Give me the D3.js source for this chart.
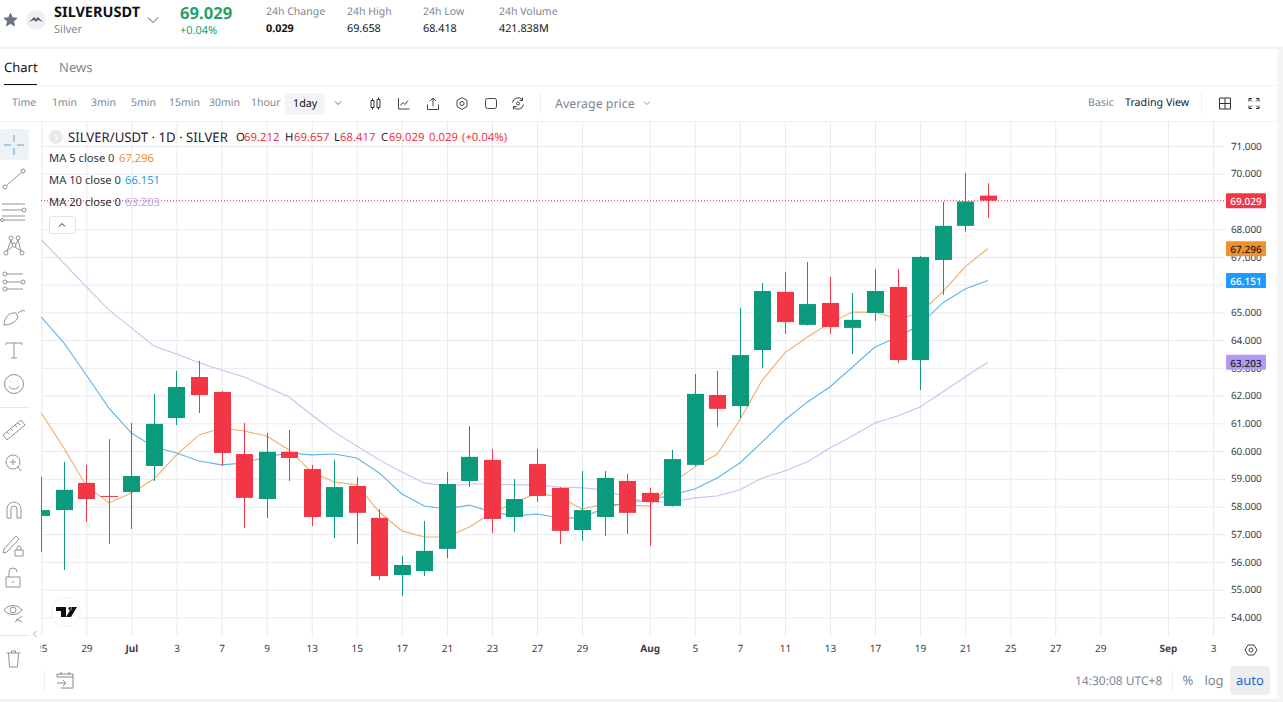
<!DOCTYPE html>
<html>
<head>
<meta charset="utf-8">
<script src="https://cdn.jsdelivr.net/npm/d3@7"></script>
<style>
  html, body { margin: 0; padding: 0; background: #fff; overflow: hidden; }
  svg { display: block; font-family: "Noto Sans", sans-serif; }
  svg text { text-rendering: geometricPrecision; }
</style>
</head>
<body>
<div id="chart"></div>
<script>
// daily candles, index 0 is 25 Jun, last one is 23 Aug
const open = [57.66,57.87,58.85,58.38,58.52,59.46,61.19,62.67,62.13,59.89,58.27,59.97,59.35,57.62,58.74,57.59,55.53,55.67,56.47,58.92,59.68,57.62,59.53,58.67,57.15,57.62,58.92,58.49,58.02,59.50,62.02,61.62,63.64,65.74,64.55,65.34,64.44,64.98,65.92,63.28,66.89,68.12,69.212];
const close = [57.87,58.60,58.27,58.36,59.10,60.98,62.31,62.02,59.93,58.31,59.97,59.75,57.62,58.70,57.77,55.49,55.89,56.40,58.81,59.79,57.55,58.27,58.38,57.12,57.87,59.03,57.77,58.16,59.71,62.06,61.52,63.46,65.77,64.65,65.30,64.47,64.73,65.77,63.28,67.00,68.12,69.00,69.029];
const high = [59.06,59.61,59.50,60.43,61.01,62.06,62.89,63.25,62.17,61.01,60.65,60.76,59.50,59.68,59.06,57.91,56.22,57.48,59.24,60.90,60.07,58.99,60.07,58.70,59.28,59.28,59.17,58.67,60.04,62.78,62.89,65.16,66.06,66.46,66.82,66.28,65.70,66.56,66.56,67.03,68.98,70.03,69.657];
const low = [56.36,55.71,57.44,56.65,57.19,58.92,60.94,61.37,59.46,57.23,57.59,58.92,57.30,56.86,56.65,55.35,54.77,55.49,56.14,58.70,57.04,57.08,58.16,56.65,56.76,56.94,57.01,56.58,58.00,59.46,60.87,61.19,62.99,64.22,64.53,64.22,63.50,64.69,63.18,62.20,65.63,67.90,68.417];
const ma5 = [61.37,60.11,58.74,58.13,58.49,58.99,59.86,60.58,60.83,60.72,60.54,60.04,59.24,58.88,58.78,57.80,57.12,56.90,56.90,57.26,57.77,58.13,58.49,58.34,57.91,58.09,58.05,58.02,58.85,59.42,59.89,61.12,62.56,63.54,64.11,64.62,65.01,65.01,64.76,64.98,65.74,66.64,67.296];
const ma10 = [64.83,63.90,62.74,61.55,60.65,60.15,59.93,59.64,59.50,59.57,59.79,59.93,59.86,59.89,59.75,59.21,58.45,58.02,57.91,58.05,57.80,57.66,57.73,57.59,57.59,57.95,58.16,58.23,58.42,58.63,59.03,59.57,60.33,61.12,61.77,62.31,63.03,63.75,64.11,64.55,65.34,65.84,66.151];
const ma20 = [67.61,66.78,65.92,65.09,64.44,63.79,63.50,63.18,62.92,62.67,62.31,61.95,61.30,60.69,60.18,59.68,59.24,58.85,58.74,58.81,58.81,58.78,58.78,58.70,58.67,58.60,58.31,58.16,58.16,58.31,58.38,58.60,59.03,59.28,59.61,60.11,60.54,61.01,61.26,61.59,62.13,62.67,63.203];

const priceTicks = [71,70,69,68,67,66,65,64,63,62,61,60,59,58,57,56,55,54];
const dateTickIndex = [0,2,4,6,8,10,12,14,16,18,20,22,24,27,29,31,33,35,37,39,41,43,45,47,50,52];
const dateTickLabels = ["25","29","Jul","3","7","9","13","15","17","21","23","27","29","Aug","5","7","11","13","17","19","21","25","27","29","Sep","3"];
const monthLabels = ["Jul","Aug","Sep"];

const lastPrice = 69.029;
const maValues = [67.296, 66.151, 63.203];
const maNames = ["MA 5 close 0", "MA 10 close 0", "MA 20 close 0"];
const maLineColors = ["#f4ab66", "#5bb5ea", "#cbbff2"];
const maTextColors = ["#f0923b", "#2a9df4", "#b7a6f2"];
const maBadgeColors = ["#f0912e", "#1e9bfd", "#b09cf7"];

const UP = "#0a9a7d", DOWN = "#f23645", GRID = "#e9eaee";
const ICON = "#8d929b", GREY = "#7f8792", DARK = "#1f2329";

const svg = d3.select("#chart").append("svg").attr("width", 1283).attr("height", 702);

const x = d3.scaleLinear().domain([0, 52]).range([41.3, 1213]);
const y = d3.scaleLinear().domain([54, 71]).range([617.4, 146]);

function label(t, px, py, size, color, opts) {
    opts = opts || {};
    return svg.append("text")
        .attr("x", px).attr("y", py)
        .attr("dominant-baseline", "central")
        .attr("text-anchor", opts.anchor || "start")
        .attr("font-size", size)
        .attr("font-weight", opts.weight || 400)
        .attr("fill", color)
        .text(t);
}
function box(px, py, w, h, fill, r) {
    return svg.append("rect").attr("x", px).attr("y", py).attr("width", w).attr("height", h)
        .attr("rx", r || 0).attr("fill", fill);
}
function hr(x1, y1, x2, y2, color) {
    return svg.append("line").attr("x1", x1).attr("y1", y1).attr("x2", x2).attr("y2", y2)
        .attr("stroke", color).attr("stroke-width", 1);
}
function icon(cx, cy, d, color) {
    return svg.append("path").attr("transform", `translate(${cx},${cy})`)
        .attr("d", d).attr("fill", "none").attr("stroke", color || ICON).attr("stroke-width", 1);
}
function circlePath(cx, cy, r) {
    return `M${cx - r},${cy}a${r},${r} 0 1,0 ${2 * r},0a${r},${r} 0 1,0 ${-2 * r},0`;
}

// ---- grid and axes
const clip = svg.append("defs");
clip.append("clipPath").attr("id", "plot").append("rect")
    .attr("x", 41).attr("y", 122).attr("width", 1184).attr("height", 516);
clip.append("clipPath").attr("id", "dates").append("rect")
    .attr("x", 40.5).attr("y", 122).attr("width", 1200).attr("height", 540);

const yAxis = d3.axisRight(y).tickValues(priceTicks).tickSize(1184).tickPadding(6)
    .tickFormat(d3.format(".3f"));
const gy = svg.append("g").attr("transform", "translate(41,0)").call(yAxis);
gy.select(".domain").remove();
gy.selectAll("line").attr("stroke", GRID);
gy.selectAll("text").attr("font-size", 10).attr("fill", "#3c4148").attr("letter-spacing", -0.1)
    .attr("font-family", '"Noto Sans", sans-serif');

const xAxis = d3.axisBottom(x).tickValues(dateTickIndex).tickSize(515).tickPadding(8)
    .tickFormat((d, i) => dateTickLabels[i]);
const gx = svg.append("g").attr("clip-path", "url(#dates)")
    .append("g").attr("transform", "translate(0,122)").call(xAxis);
gx.select(".domain").remove();
gx.selectAll("line").attr("stroke", GRID);
gx.selectAll("text").attr("font-size", 10).attr("fill", "#3c4148")
    .attr("font-family", '"Noto Sans", sans-serif')
    .attr("font-weight", (d, i) => monthLabels.includes(dateTickLabels[i]) ? 700 : 400);

// ---- moving averages sit under the candles
const plot = svg.append("g").attr("clip-path", "url(#plot)");
const maLine = d3.line().x((d, i) => x(i)).y(d => y(d));
[ma5, ma10, ma20].forEach((s, k) => {
    plot.append("path").datum(s).attr("d", maLine)
        .attr("fill", "none").attr("stroke", maLineColors[k]).attr("stroke-width", 1.1);
});

// ---- candles
const candles = open.map((o, i) => ({ i, o, c: close[i], h: high[i], l: low[i] }));
const bodyW = 17;
const col = d => d.c >= d.o ? UP : DOWN;
plot.selectAll(".wick").data(candles).enter().append("line")
    .attr("class", "wick")
    .attr("x1", d => Math.round(x(d.i)) + 0.5).attr("x2", d => Math.round(x(d.i)) + 0.5)
    .attr("y1", d => y(d.h)).attr("y2", d => y(d.l))
    .attr("stroke", col).attr("stroke-width", 1);
plot.selectAll(".body").data(candles).enter().append("rect")
    .attr("class", "body")
    .attr("x", d => Math.round(x(d.i)) + 0.5 - bodyW / 2).attr("width", bodyW)
    .attr("y", d => y(Math.max(d.o, d.c)))
    .attr("height", d => Math.max(1, Math.abs(y(d.o) - y(d.c))))
    .attr("fill", col);

// last price line
svg.append("line").attr("x1", 41).attr("x2", 1225).attr("y1", y(lastPrice)).attr("y2", y(lastPrice))
    .attr("stroke", DOWN).attr("stroke-width", 1).attr("stroke-dasharray", "1 2");

// price badges on the axis
[lastPrice].concat(maValues).forEach((v, k) => {
    const fill = k === 0 ? DOWN : maBadgeColors[k - 1];
    const txt = k === 0 || k === 2 ? "#fff" : "#222";
    box(1226, y(v) - 7.5, 40, 15, fill, 1);
    label(d3.format(".3f")(v), 1246, y(v) + 0.5, 10, txt, { anchor: "middle", weight: 500 });
});

// ---- legend
svg.append("circle").attr("cx", 56).attr("cy", 137).attr("r", 7).attr("fill", "#e8e9ec");
label("S", 56, 137, 8, "#fff", { anchor: "middle" });
label("SILVER/USDT · 1D · SILVER", 68, 137, 13.2, DARK);
const ohlc = [["O", 236, "69.212", 244], ["H", 285, "69.657", 294], ["L", 334, "68.417", 340], ["C", 381, "69.029", 389]];
ohlc.forEach(r => {
    label(r[0], r[1], 137, 11.3, DARK);
    label(r[2], r[3], 137, 11.3, DOWN);
});
label("0.029", 429, 137, 11.3, DOWN);
label("(+0.04%)", 462, 137, 11.3, DOWN);
maNames.forEach((n, k) => {
    const ly = 158 + k * 22;
    label(n, 49, ly, 11.2, "#30343a");
    label(d3.format(".3f")(maValues[k]), k === 0 ? 119 : 125, ly, 11.2, maTextColors[k]);
});
box(49.5, 216.5, 26, 17, "#fff", 2).attr("stroke", "#e2e3e6");
icon(62, 225, "M-3,1.5L0,-1.5L3,1.5", "#222");

// ---- header
icon(10.5, 20, "M0,-6.5L1.9,-2.2L6.5,-1.8L3,1.2L4,5.8L0,3.4L-4,5.8L-3,1.2L-6.5,-1.8L-1.9,-2.2Z", "#6b7486")
    .attr("fill", "#6b7486");
svg.append("circle").attr("cx", 36).attr("cy", 20).attr("r", 10).attr("fill", "#eef0f4");
svg.append("path").attr("d", "M29,22L34,17L36,19L38,17L43,22L38,20L36,22L34,20Z").attr("fill", "#5c6068");
label("SILVERUSDT", 54, 12, 14.5, "#111", { weight: 700 });
label("Silver", 54, 29, 11, GREY);
icon(153, 20, "M-5,-2.5L0,2.5L5,-2.5", "#555");
label("69.029", 180, 12, 16.6, "#26a269", { weight: 700 });
label("+0.04%", 180, 30, 11, "#26a269");
const stats = [["24h Change", "0.029", 266, 700], ["24h High", "69.658", 347, 400], ["24h Low", "68.418", 423, 400], ["24h Volume", "421.838M", 499, 400]];
stats.forEach(s => {
    label(s[0], s[2], 12, 10.5, GREY);
    label(s[1], s[2], 28, 10.8, "#111", { weight: s[3] });
});
box(0, 46.5, 1283, 2.5, "#f2f2f3");

// ---- tabs
label("Chart", 4, 67, 13, "#111");
label("News", 59, 67, 13, GREY);
box(4, 84, 33, 1.5, "#111");
hr(0, 85.5, 1283, 85.5, "#f2f2f3");

// ---- interval toolbar
const intervals = [["Time", 12], ["1min", 52], ["3min", 91], ["5min", 131], ["15min", 169], ["30min", 209], ["1hour", 251]];
intervals.forEach(r => label(r[0], r[1], 103, 10.5, GREY));
box(285, 93, 40, 22, "#f3f4f6", 3);
label("1day", 293, 103, 10.8, "#111");
icon(338, 103, "M-3,-1.5L0,1.5L3,-1.5", "#666");
icon(376, 103.5, "M-5,-3h3v7h-3zM-3.5,-5v2M-3.5,4v2M1,-4h3v8h-3zM2.5,-6v2M2.5,4v2", "#333");
icon(404, 103.5, "M-5.5,-5.5v11h11M-3.5,2L-1,-1L1,1L4,-3", "#444");
icon(433, 103.5, "M-5.5,1v5h11v-5M0,3v-8M-3,-2.5L0,-5.5L3,-2.5", "#444");
icon(462, 103.5, circlePath(0, 0, 2) + "M0,-6L5,-3V3L0,6L-5,3V-3Z", "#444");
svg.append("rect").attr("x", 485.5).attr("y", 98.5).attr("width", 11).attr("height", 10).attr("rx", 2)
    .attr("fill", "none").attr("stroke", "#444");
icon(518, 103.5, circlePath(0, 0, 1.5) + "M-5.5,-1a5.6,5.6 0 0,1 10,-2.5M5.5,1a5.6,5.6 0 0,1 -10,2.5M4.5,-6v3h-3M-4.5,6v-3h3", "#444");
hr(540.5, 93, 540.5, 114, "#eeeff1");
label("Average price", 555, 103.5, 12.4, GREY);
icon(647, 103, "M-3,-1.5L0,1.5L3,-1.5", "#999");
label("Basic", 1088, 103, 10.7, GREY);
label("Trading View", 1125, 103, 10.7, "#222");
hr(1201.5, 93, 1201.5, 114, "#eeeff1");
icon(1225, 103.5, "M-5.5,-5.5h11v11h-11zM0,-5.5v11M-5.5,0h11", "#333");
icon(1254, 103.5, "M-5,-2v-3h3M2,-5h3v3M5,2v3h-3M-2,5h-3v-3M-5,-5l3,3M5,-5l-3,3M5,5l-3,-3M-5,5l3,-3", "#333");
hr(0, 121.5, 1283, 121.5, "#f2f2f3");

// ---- drawing tools
box(0, 129, 29, 31, "#eef1f5", 3);
hr(4, 145, 11, 145, "#5aa7dc");
hr(17, 145, 24, 145, "#5aa7dc");
hr(14, 135, 14, 142, "#5aa7dc");
hr(14, 148, 14, 155, "#5aa7dc");
icon(14, 179, circlePath(-9, 8, 2) + "M-7.5,6.5L7.5,-6.5" + circlePath(9, -8, 2));
icon(14, 212, "M-12,-8H11M-12,-2H8" + circlePath(10, -2, 2) + "M-12,4H11" + circlePath(-12, 8, 1.5) + "M-10,8H11");
icon(14, 246, circlePath(-8, 7, 2) + circlePath(-3, -8, 2) + circlePath(4, -8, 2) + circlePath(8, 7, 2) + circlePath(0, -1, 2) + "M-7,5L-3,-6M-2,1L-7,5M1,1L7,5M4,-6L7,5M-2,-2L-3,-6M2,-2L4,-6");
icon(14, 282, circlePath(-9, -8, 2) + "M-7,-8H9" + circlePath(-9, 0, 2) + "M-7,0H7" + circlePath(9, 0, 2) + circlePath(-9, 7, 2) + "M-7,7H9");
icon(14, 318, "M-10,7C-10,0 -5,-6 2,-5L4,-1C2,5 -5,7 -10,7ZM4,-5C6,-7 9,-8 11,-7");
icon(14, 350, "M-8,-7H8M-8,-7v2M8,-7v2M0,-7V8M-3,8H3");
icon(14, 384, circlePath(0, 0, 9.5) + "M-5,2C-3,6 3,6 5,2M-3.5,-2.5v.5M3.5,-2.5v.5");
hr(0, 407.5, 30, 407.5, "#e8e9ec");
icon(14, 430, "M-11,5L7,-10L11,-5L-7,10ZM-7,2l2,2M-3,-1l2,2M1,-5l2,2M4,-7l2,2");
icon(14, 463, circlePath(-1, -1, 7) + "M-1,-4v6M-4,-1h6M4,4L7,8");
icon(14, 510, "M-7,8V-1A7,7 0 0,1 7,-1V8H3V-1A3,3 0 0,0 -3,-1V8Z");
icon(13, 545, "M-9,4L3,-9L6,-6L-6,7L-10,8Z");
icon(19, 550, "M-4,0h8v6h-8zM-2,0v-2a2,2 0 0,1 4,0v2");
icon(13, 578, "M-7,-1h14v10h-14zM-4,-1v-5a4,4 0 0,1 8,0M0,3v2");
icon(13, 610, "M-9,0C-5,-6 5,-6 9,0C5,6 -5,6 -9,0Z" + circlePath(0, 0, 3));
icon(19, 619, "M-4,3L3,-3M-3,0L3,3");
hr(0, 635.5, 30, 635.5, "#e8e9ec");
icon(35, 634, "M1.5,-3L-1.5,0L1.5,3", "#aaa");
icon(13.5, 659, "M-7,-6H7M-2,-6v-2h4v2M-5,-6L-4,8H4L5,-6");

// TV logo
svg.append("circle").attr("cx", 66).attr("cy", 612).attr("r", 14.5).attr("fill", "#fff").attr("stroke", "#f0f0f2");
svg.append("path").attr("d", "M56,607H66V617H61V611H56ZM70,607a1.6,1.6 0 1,0 .1,0ZM72,607H77L71,617H66Z").attr("fill", "#111");

// ---- bottom strip
hr(44.5, 670, 44.5, 691, "#eeeff1");
icon(65, 680, "M-8,-3V-6H8V8H-4M-8,-3H8M-4,-8v3M4,-8v3M-8,3H1M-2,0L1,3L-2,6", "#888");
icon(1251, 650, circlePath(0, 0, 2) + "M-6,0L-3,-5H3L6,0L3,5H-3Z", "#444");
label("14:30:08 UTC+8", 1075, 680, 12, GREY);
hr(1172.5, 670, 1172.5, 691, "#eeeff1");
label("%", 1188, 680, 13, GREY, { anchor: "middle" });
label("log", 1214, 680, 13, GREY, { anchor: "middle" });
box(1230, 666, 40, 29, "#eeeeef", 4);
label("auto", 1250, 680, 13, "#1a66d6", { anchor: "middle" });
box(0, 699, 1283, 3, "#f2f2f3");
box(1277, 49, 6, 653, "#f5f5f6");
</script>
</body>
</html>
